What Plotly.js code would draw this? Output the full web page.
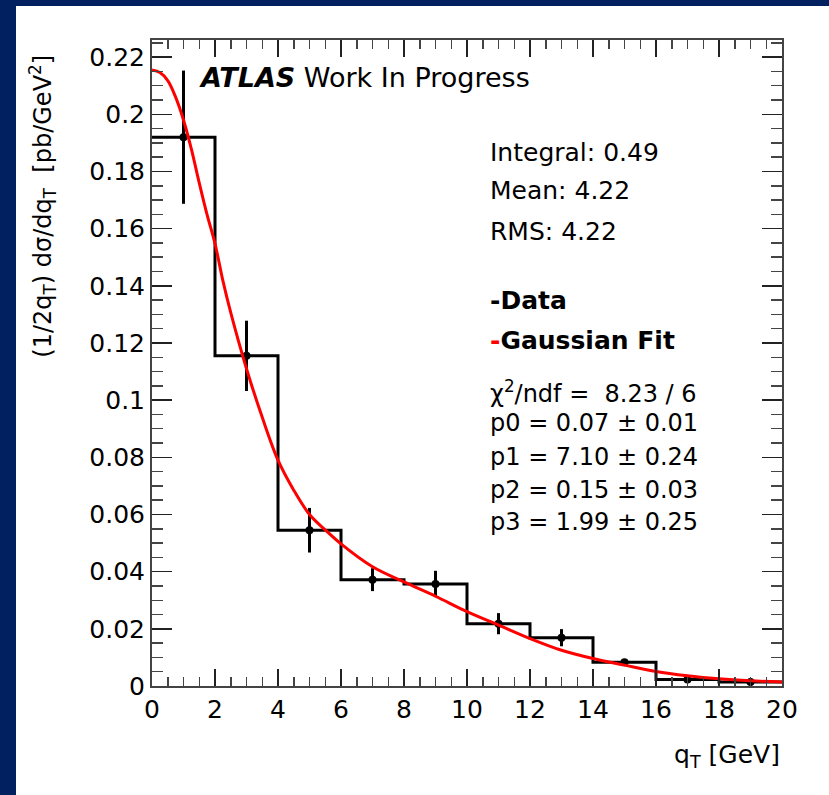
<!DOCTYPE html>
<html>
<head>
<meta charset="utf-8">
<script src="https://cdn.plot.ly/plotly-3.0.1.min.js"></script>
<style>
  html, body { margin: 0; padding: 0; background: #00205F; width: 829px; height: 795px; overflow: hidden; }
  #chart { position: absolute; left: 16px; top: 6px; width: 813px; height: 789px; background: #ffffff; }
</style>
</head>
<body>
<div id="chart"></div>
<script>
// ---- data ----
const binEdges   = [0, 2, 4, 6, 8, 10, 12, 14, 16, 18, 20];
const binCenters = [1, 3, 5, 7, 9, 11, 13, 15, 17, 19];
const dataValues = [0.192, 0.1155, 0.0545, 0.0372, 0.0357, 0.0218, 0.0169, 0.0083, 0.0023, 0.0014];
const dataErrors = [0.0233, 0.0123, 0.0078, 0.0040, 0.0046, 0.0037, 0.0030, 0.0010, 0.0010, 0.0012];

const fitX = [0, 0.25, 0.5, 0.75, 1, 1.25, 1.5, 1.75, 2, 2.25, 2.5, 3, 3.5, 4, 4.5, 5, 5.5, 6, 7, 8, 9, 10, 11, 12, 13, 14, 15, 16, 17, 18, 19, 20];
const fitY = [0.2155, 0.2146, 0.2118, 0.2060, 0.1980, 0.1878, 0.1760, 0.1648, 0.1548, 0.1418, 0.1306, 0.1110, 0.0940, 0.0790, 0.0685, 0.0600, 0.0546, 0.0497, 0.0417, 0.0364, 0.0314, 0.0260, 0.0213, 0.0166, 0.0125, 0.0096, 0.0073, 0.0051, 0.0036, 0.0025, 0.0018, 0.0014];

const yTickVals = [0, 0.02, 0.04, 0.06, 0.08, 0.1, 0.12, 0.14, 0.16, 0.18, 0.2, 0.22];
const yTickText = ["0", "0.02", "0.04", "0.06", "0.08", "0.1", "0.12", "0.14", "0.16", "0.18", "0.2", "0.22"];
const xTickVals = [0, 2, 4, 6, 8, 10, 12, 14, 16, 18, 20];
const xTickText = ["0", "2", "4", "6", "8", "10", "12", "14", "16", "18", "20"];

const statsLines = ["Integral: 0.49", "Mean: 4.22", "RMS: 4.22"];
const fitLines = ["χ<sup>2</sup>/ndf =  8.23 / 6", "p0 = 0.07 ± 0.01", "p1 = 7.10 ± 0.24", "p2 = 0.15 ± 0.03", "p3 = 1.99 ± 0.25"];

// ---- traces ----
const FONT = "DejaVu Sans, Liberation Sans, Arial, sans-serif";

const stepTrace = {
  x: binEdges,
  y: dataValues.concat([dataValues[dataValues.length - 1]]),
  type: "scatter",
  mode: "lines",
  line: { shape: "hv", color: "#000000", width: 3 },
  hoverinfo: "skip",
  showlegend: false
};

const pointsTrace = {
  x: binCenters,
  y: dataValues,
  type: "scatter",
  mode: "markers",
  marker: { color: "#000000", size: 8, symbol: "circle" },
  error_y: { type: "data", array: dataErrors, visible: true, color: "#000000", thickness: 3, width: 0 },
  showlegend: false
};

const fitTrace = {
  x: fitX,
  y: fitY,
  type: "scatter",
  mode: "lines",
  line: { shape: "spline", smoothing: 1, color: "#ff0000", width: 3 },
  showlegend: false
};

// ---- annotations ----
const annotations = [];
function addText(text, x, y, size, opts) {
  annotations.push(Object.assign({
    xref: "paper", yref: "paper", x: x, y: y,
    xanchor: "left", yanchor: "middle",
    text: text, showarrow: false,
    font: { family: FONT, size: size, color: "#000000" }
  }, opts || {}));
}

addText("<b><i>ATLAS</i></b> Work In Progress", 0.0714, 0.9427, 27);

const statsY = [0.8266, 0.7678, 0.7043];
statsLines.forEach((t, i) => addText(t, 0.5333, statsY[i], 25));

addText("<b>-Data</b>", 0.5333, 0.5975, 25);
addText("<b><span style=\"color:#ff0000\">-</span>Gaussian Fit</b>", 0.5333, 0.5341, 25);

const fitYpos = [0.4551, 0.4071, 0.3545, 0.3034, 0.2539];
fitLines.forEach((t, i) => addText(t, 0.5333, fitYpos[i], 24));

// axis titles
addText("q<sub>T</sub> [GeV]", 1.0, -0.108, 25, { xanchor: "right" });
addText("(1/2q<sub>T</sub>) dσ/dq<sub>T</sub>  [pb/GeV<sup>2</sup>]", -0.173, 0.742, 24,
        { xanchor: "center", yanchor: "middle", textangle: -90 });

const axisCommon = {
  showgrid: false,
  zeroline: false,
  showline: true,
  linecolor: "#444444",
  linewidth: 2,
  mirror: "ticks",
  ticks: "inside",
  tickcolor: "#222222",
  tickwidth: 1.5,
  tickfont: { family: FONT, size: 25, color: "#000000" }
};

const layout = {
  width: 813,
  height: 789,
  paper_bgcolor: "#ffffff",
  plot_bgcolor: "#ffffff",
  margin: { l: 136, r: 47, t: 34, b: 109 },
  showlegend: false,
  xaxis: Object.assign({}, axisCommon, {
    range: [0, 20],
    tickmode: "array",
    tickvals: xTickVals,
    ticktext: xTickText,
    ticklen: 17,
    minor: { dtick: 0.5, ticks: "inside", ticklen: 9, tickcolor: "#444444", tickwidth: 1.5, showgrid: false }
  }),
  yaxis: Object.assign({}, axisCommon, {
    range: [0, 0.226],
    tickmode: "array",
    tickvals: yTickVals,
    ticktext: yTickText,
    ticklen: 20,
    minor: { dtick: 0.005, tick0: 0, ticks: "inside", ticklen: 11, tickcolor: "#444444", tickwidth: 1.5, showgrid: false }
  }),
  annotations: annotations
};

Plotly.newPlot("chart", [stepTrace, pointsTrace, fitTrace], layout, { displayModeBar: false, staticPlot: true });
</script>
</body>
</html>
